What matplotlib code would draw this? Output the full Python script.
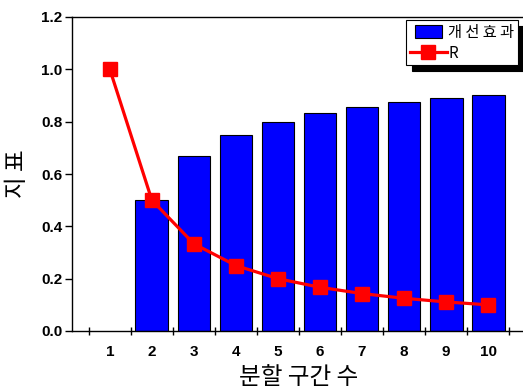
import matplotlib
matplotlib.use("Agg")
import matplotlib.pyplot as plt
from matplotlib.patches import Rectangle
from matplotlib.lines import Line2D
from matplotlib.legend_handler import HandlerPatch

# Number of split sections and the two indicators
sections = [1, 2, 3, 4, 5, 6, 7, 8, 9, 10]
bar_sections = [2, 3, 4, 5, 6, 7, 8, 9, 10]
improvement = [0.50, 0.667, 0.75, 0.80, 0.833, 0.857, 0.875, 0.889, 0.90]
r_values = [1.00, 0.50, 0.333, 0.25, 0.20, 0.167, 0.143, 0.125, 0.111, 0.10]
y_ticks = [0.0, 0.2, 0.4, 0.6, 0.8, 1.0, 1.2]

plt.rcParams['font.family'] = ['Noto Sans CJK KR', 'DejaVu Sans']

fig = plt.figure(figsize=(5.23, 3.90), dpi=100)
ax = fig.add_axes([72 / 523, 1 - 331 / 390, (526 - 72) / 523, (331 - 17) / 390])

ax.bar(bar_sections, improvement, width=0.78, color='#0000FF',
       edgecolor='black', linewidth=0.8, zorder=2)
ax.plot(sections, r_values, color='#FF0000', linewidth=2.3, marker='s',
        markersize=9.5, markerfacecolor='#FF0000', markeredgecolor='#FF0000',
        zorder=3)

ax.set_xlim(0.1, 10.9)
ax.set_ylim(0.0, 1.2)
ax.set_yticks(y_ticks)
ax.set_yticklabels([f"{v:.1f}" for v in y_ticks])
ax.set_xticks(sections)
ax.set_xticklabels([str(s) for s in sections])
ax.set_xticks([s - 0.5 for s in sections] + [10.5], minor=True)

ax.tick_params(axis='x', which='major', length=0, pad=10)
ax.tick_params(axis='x', which='minor', direction='inout', length=6, width=1)
ax.tick_params(axis='y', which='major', direction='out', length=5, width=1, pad=2)
for lbl in ax.get_xticklabels() + ax.get_yticklabels():
    lbl.set_fontfamily(['Liberation Sans', 'DejaVu Sans'])
    lbl.set_fontweight('bold')
    lbl.set_fontsize(11)

for sp in ax.spines.values():
    sp.set_linewidth(1.0)
ax.spines['right'].set_visible(False)

ax.set_ylabel('지 표', fontsize=17, labelpad=9)
ax.set_xlabel('분할 구간 수', fontsize=17, labelpad=5)


def small_box(legend, orig_handle, xdescent, ydescent, width, height, fontsize):
    w = width * 0.74
    h = height * 1.15
    return Rectangle((-xdescent + (width - w) / 2, -ydescent + (height - h) / 2), w, h)


handles = [
    Rectangle((0, 0), 1, 1, facecolor='#0000FF', edgecolor='black', linewidth=0.8),
    Line2D([], [], color='#FF0000', linewidth=2.3, marker='s', markersize=9.5),
]
leg = fig.legend(handles, ['개 선 효 과', 'R'], loc='upper right',
                 bbox_to_anchor=(518 / 523, 1 - 20 / 390), borderaxespad=0,
                 fontsize=11, fancybox=False, framealpha=1,
                 edgecolor='black', handlelength=2.4, handletextpad=0.1,
                 borderpad=0.25, labelspacing=0.25,
                 handler_map={Rectangle: HandlerPatch(patch_func=small_box)},
                 shadow={'ox': 4, 'oy': -4, 'color': 'black', 'alpha': 1})
leg.get_frame().set_linewidth(0.8)

fig.savefig('out.png', dpi=100)
